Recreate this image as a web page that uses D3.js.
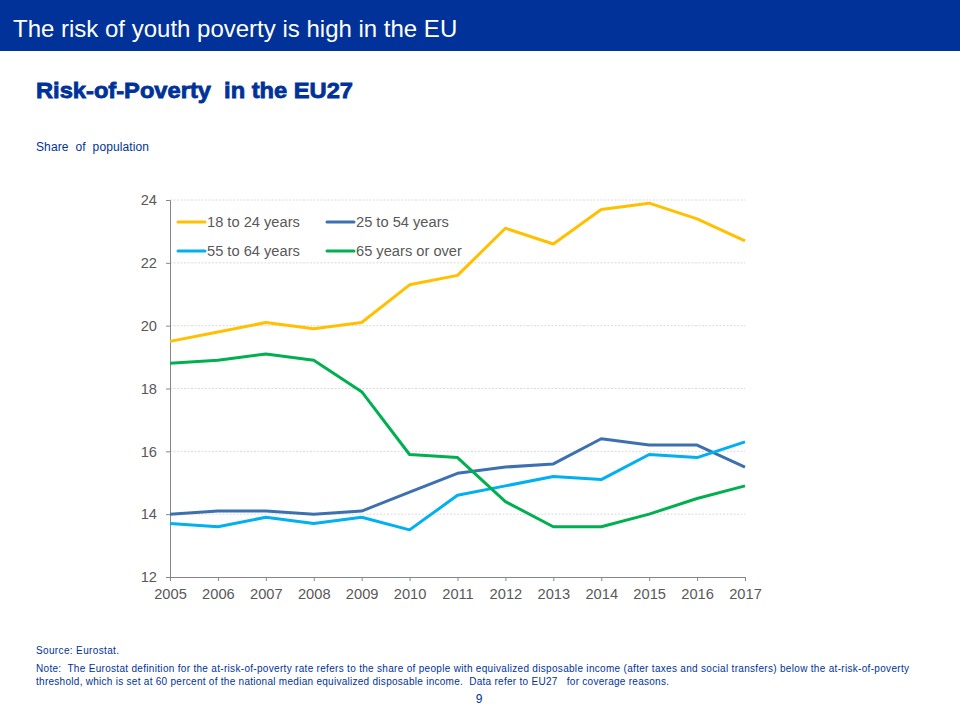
<!DOCTYPE html>
<html>
<head>
<meta charset="utf-8">
<script src="https://cdn.jsdelivr.net/npm/d3@7"></script>
<style>
  html, body { margin: 0; padding: 0; background: #fff; }
  svg { display: block; }
  text { font-family: "Liberation Sans", Arial, sans-serif; white-space: pre; }
</style>
</head>
<body>
<svg id="chart" width="960" height="720"></svg>
<script>
// values
var years = [2005, 2006, 2007, 2008, 2009, 2010, 2011, 2012, 2013, 2014, 2015, 2016, 2017];
var age18to24 = [19.5, 19.8, 20.1, 19.9, 20.1, 21.3, 21.6, 23.1, 22.6, 23.7, 23.9, 23.4, 22.7];
var age25to54 = [14.0, 14.1, 14.1, 14.0, 14.1, 14.7, 15.3, 15.5, 15.6, 16.4, 16.2, 16.2, 15.5];
var age55to64 = [13.7, 13.6, 13.9, 13.7, 13.9, 13.5, 14.6, 14.9, 15.2, 15.1, 15.9, 15.8, 16.3];
var age65plus = [18.8, 18.9, 19.1, 18.9, 17.9, 15.9, 15.8, 14.4, 13.6, 13.6, 14.0, 14.5, 14.9];
var yTicks = [12, 14, 16, 18, 20, 22, 24];

var seriesNames = ["18 to 24 years", "25 to 54 years", "55 to 64 years", "65 years or over"];
var seriesValues = [age18to24, age25to54, age55to64, age65plus];
var seriesColors = ["#FFC000", "#3C70B0", "#00B0F0", "#00B050"];

var blue = "#003299";
var grey = "#595959";

var svg = d3.select("#chart");

// header band
svg.append("rect").attr("width", 960).attr("height", 51).attr("fill", blue);
svg.append("text").attr("x", 13).attr("y", 37).attr("font-size", 24)
  .attr("fill", "#fff").text("The risk of youth poverty is high in the EU");

svg.append("text").attr("x", 36).attr("y", 98).attr("font-size", 22)
  .attr("font-weight", "bold").attr("fill", blue).attr("stroke", blue).attr("stroke-width", 0.8)
  .attr("textLength", 317).attr("lengthAdjust", "spacingAndGlyphs")
  .text("Risk-of-Poverty  in the EU27");

svg.append("text").attr("x", 36).attr("y", 151).attr("font-size", 12)
  .attr("fill", blue).attr("textLength", 113).text("Share  of  population");

var x = d3.scaleLinear().domain([2005, 2017]).range([170, 745]);
var y = d3.scaleLinear().domain([12, 24]).range([577, 200]);

// gridlines
svg.append("g").selectAll("line")
  .data(yTicks.filter(function(d) { return d > 12; }))
  .enter()
  .append("line")
  .attr("x1", 170).attr("x2", 745)
  .attr("y1", function(d) { return y(d); })
  .attr("y2", function(d) { return y(d); })
  .attr("stroke", "#d0d0d0").attr("stroke-width", 0.8).attr("stroke-dasharray", "2 1.5");

// axes
var xAxis = d3.axisBottom(x).tickValues(years).tickFormat(d3.format("d")).tickSize(4).tickPadding(8);
var yAxis = d3.axisLeft(y).tickValues(yTicks).tickSize(4).tickPadding(9);

var gx = svg.append("g").attr("transform", "translate(0,577)").call(xAxis);
var gy = svg.append("g").attr("transform", "translate(170,0)").call(yAxis);

[gx, gy].forEach(function(g) {
  g.selectAll("path, line").attr("stroke", "#868686");
  g.selectAll("text").attr("fill", grey).attr("font-size", 14.67)
    .attr("font-family", '"Liberation Sans", Arial, sans-serif');
});

// lines
var line = d3.line()
  .x(function(d, i) { return x(years[i]); })
  .y(function(d) { return y(d); });

svg.append("g").selectAll("path")
  .data(seriesValues)
  .enter()
  .append("path")
  .attr("d", line)
  .attr("fill", "none")
  .attr("stroke-width", 3)
  .attr("stroke-linejoin", "round")
  .attr("stroke", function(d, i) { return seriesColors[i]; });

// legend, two by two
var legendX = [178, 327];
var legendY = [222, 251];

var legend = svg.append("g").selectAll("g")
  .data(seriesNames)
  .enter()
  .append("g")
  .attr("transform", function(d, i) {
    return "translate(" + legendX[i % 2] + "," + legendY[Math.floor(i / 2)] + ")";
  });

legend.append("line")
  .attr("x1", 0).attr("x2", 27)
  .attr("stroke-width", 3)
  .attr("stroke-linecap", "round")
  .attr("stroke", function(d, i) { return seriesColors[i]; });

legend.append("text")
  .attr("x", 29).attr("y", 5)
  .attr("font-size", 14.67)
  .attr("fill", grey)
  .text(function(d) { return d; });

// footnotes
var notes = [
  { text: "Source: Eurostat.", y: 654, len: 83 },
  { text: "Note:  The Eurostat definition for the at-risk-of-poverty rate refers to the share of people with equivalized disposable income (after taxes and social transfers) below the at-risk-of-poverty", y: 672, len: 873 },
  { text: "threshold, which is set at 60 percent of the national median equivalized disposable income.  Data refer to EU27   for coverage reasons.", y: 685, len: 633 }
];

svg.append("g").selectAll("text")
  .data(notes)
  .enter()
  .append("text")
  .attr("x", 36)
  .attr("y", function(d) { return d.y; })
  .attr("font-size", 10)
  .attr("fill", blue)
  .attr("textLength", function(d) { return d.len; })
  .text(function(d) { return d.text; });

svg.append("text").attr("x", 479).attr("y", 703).attr("font-size", 12)
  .attr("text-anchor", "middle").attr("fill", blue).text("9");
</script>
</body>
</html>
